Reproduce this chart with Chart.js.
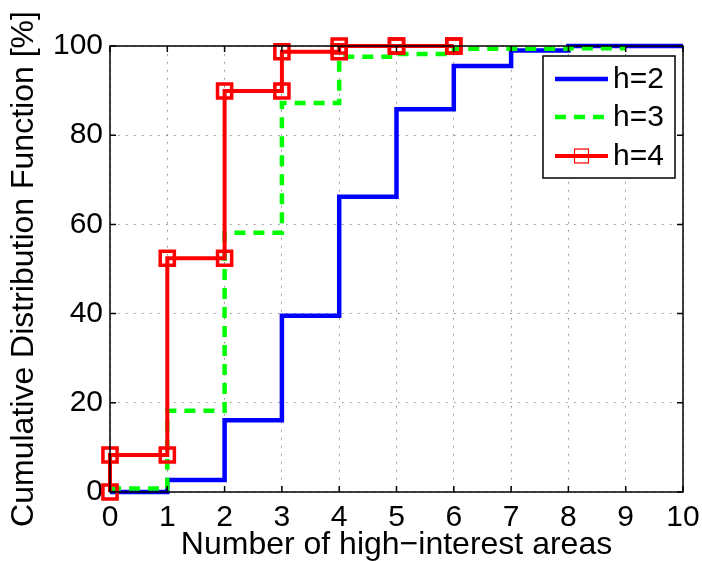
<!DOCTYPE html>
<html>
<head>
<meta charset="utf-8">
<script src="https://cdn.jsdelivr.net/npm/chart.js@4.4.1/dist/chart.umd.min.js"></script>
<style>
html,body{margin:0;padding:0;background:#fff;}
#wrap{width:702px;height:561px;}
</style>
</head>
<body>
<div id="wrap"><canvas id="c" width="702" height="561"></canvas></div>
<script>
// ---- data ----
const xTicks = [0,1,2,3,4,5,6,7,8,9,10];
const yTicks = [0,20,40,60,80,100];
const seriesLabels = ['h=2','h=3','h=4'];
const xH2 = [0,1,2,3,4,5,6,7,8,9,10];
const h2 = [0, 2.7, 16.1, 39.5, 66.2, 85.8, 95.5, 99.0, 100, 100, 100];
const xH3 = [0,1,2,3,4,5,6,7,8,9];
const h3 = [0.8, 18.2, 58.1, 87.2, 97.6, 98.2, 99.4, 99.4, 99.5, 99.5];
const xH4 = [0,1,2,3,4,5,6];
const h4 = [8.3, 52.4, 89.9, 98.7, 100, 100, 100];
const h4Start = 0;

// stairs vertices for h=4 (markers on every corner)
function corners(xs, ys, start){
  const pts = [];
  let prev = start;
  for (let i=0;i<xs.length;i++){
    pts.push({x: xs[i], y: prev});
    pts.push({x: xs[i], y: ys[i]});
    prev = ys[i];
  }
  return pts;
}
const toPts = (xs, ys) => xs.map((x,i)=>({x:x, y:ys[i]}));

const FONT = '"Liberation Sans", Arial, Helvetica, sans-serif';

const boxPlugin = {
  id: 'matlabBox',
  afterDatasetsDraw(chart){
    const {ctx, chartArea: a, scales} = chart;
    ctx.save();
    ctx.strokeStyle = '#000';
    ctx.lineWidth = 1.5;
    ctx.setLineDash([]);
    const tl = 6;
    ctx.beginPath();
    xTicks.forEach(v=>{
      const px = scales.x.getPixelForValue(v);
      ctx.moveTo(px, a.bottom); ctx.lineTo(px, a.bottom - tl);
      ctx.moveTo(px, a.top); ctx.lineTo(px, a.top + tl);
    });
    yTicks.forEach(v=>{
      const py = scales.y.getPixelForValue(v);
      ctx.moveTo(a.left, py); ctx.lineTo(a.left + tl, py);
      ctx.moveTo(a.right, py); ctx.lineTo(a.right - tl, py);
    });
    ctx.stroke();
    ctx.strokeRect(a.left, a.top, a.right - a.left, a.bottom - a.top);
    ctx.restore();
  },
  afterDraw(chart){
    const {ctx, chartArea: a} = chart;
    const ds = chart.data.datasets;
    ctx.save();
    const bw = 132, bh = 122;
    const bx = a.right - 8 - bw, by = a.top + 10;
    ctx.fillStyle = '#fff';
    ctx.fillRect(bx, by, bw, bh);
    ctx.strokeStyle = '#000';
    ctx.lineWidth = 1.5;
    ctx.strokeRect(bx, by, bw, bh);
    const rows = [23, 61, 100];
    ds.forEach((d, i)=>{
      const y = by + rows[i];
      const x0 = bx + 12, x1 = bx + 65;
      ctx.strokeStyle = d.borderColor;
      ctx.lineWidth = d.borderWidth;
      ctx.setLineDash(d.borderDash || []);
      ctx.beginPath(); ctx.moveTo(x0, y); ctx.lineTo(x1, y); ctx.stroke();
      ctx.setLineDash([]);
      if (d.pointRadius > 0){
        ctx.lineWidth = 1.2;
        ctx.strokeRect((x0+x1)/2 - 7, y - 7, 14, 14);
      }
      ctx.fillStyle = '#000';
      ctx.font = '30px ' + FONT;
      ctx.textBaseline = 'middle';
      ctx.textAlign = 'left';
      ctx.fillText(d.label, bx + 70, y + 1);
    });
    ctx.restore();
  }
};

new Chart(document.getElementById('c'), {
  type: 'line',
  data: {
    datasets: [
      { label: seriesLabels[0], data: toPts(xH2, h2), borderColor: '#0000ff', borderWidth: 4.5,
        stepped: true, pointRadius: 0, fill: false, order: 3, clip: false },
      { label: seriesLabels[1], data: toPts(xH3, h3), borderColor: '#00ff00', borderWidth: 4.5,
        borderDash: [11, 8], stepped: true, pointRadius: 0, fill: false, order: 2, clip: false },
      { label: seriesLabels[2], data: corners(xH4, h4, h4Start), borderColor: '#ff0000', borderWidth: 4,
        pointStyle: 'rect', pointRadius: 10, pointBorderWidth: 3.5, pointBorderColor: '#ff0000',
        pointBackgroundColor: 'rgba(0,0,0,0)', pointHoverRadius: 10, fill: false, order: 1, clip: false }
    ]
  },
  options: {
    responsive: false,
    animation: false,
    events: [],
    layout: { padding: { top: 46, right: 19, left: 0, bottom: 0 } },
    plugins: { legend: { display: false }, tooltip: { enabled: false } },
    scales: {
      x: {
        type: 'linear', min: 0, max: 10,
        afterFit(s){ s.height = 69; s.paddingLeft = 0; s.paddingRight = 0; },
        afterBuildTicks(s){ s.ticks = xTicks.map(v=>({value:v})); },
        ticks: { font: { family: FONT, size: 30 }, color: '#000', padding: 8, maxRotation: 0, autoSkip: false },
        grid: { color: '#8a8a8a', lineWidth: 1, drawTicks: false },
        border: { display: false, dash: [1.5, 6.5] },
        title: { display: true, text: 'Number of high\u2212interest areas', color: '#000',
                 font: { family: FONT, size: 32, lineHeight: 1 }, padding: { top: 0, bottom: 0 } }
      },
      y: {
        type: 'linear', min: 0, max: 100,
        afterFit(s){ s.width = 110; s.paddingTop = 0; s.paddingBottom = 0; },
        afterBuildTicks(s){ s.ticks = yTicks.map(v=>({value:v})); },
        ticks: { font: { family: FONT, size: 30 }, color: '#000', padding: 7 },
        grid: { color: '#8a8a8a', lineWidth: 1, drawTicks: false },
        border: { display: false, dash: [1.5, 6.5] },
        title: { display: true, text: 'Cumulative Distribution Function [%]', color: '#000',
                 font: { family: FONT, size: 32, lineHeight: 1 }, padding: { top: 8, bottom: 0 } }
      }
    }
  },
  plugins: [boxPlugin]
});
</script>
</body>
</html>
